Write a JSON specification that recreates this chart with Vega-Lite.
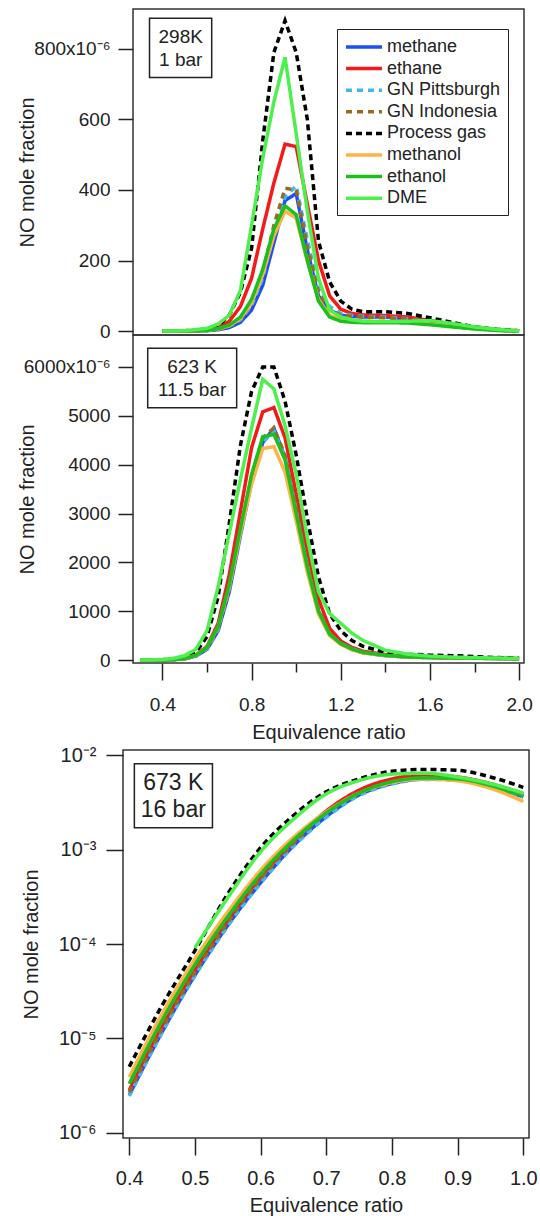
{
"$schema": "https://vega.github.io/schema/vega-lite/v6.json",
"background": "white",
"padding": {"left": 17, "top": 8, "right": 5, "bottom": 2},
"spacing": 2,
"bounds": "full",
"config": {
  "view": {"stroke": "#333", "strokeWidth": 1.5},
  "font": "Liberation Sans",
  "axis": {"grid": false, "domain": false, "tickColor": "#222", "tickWidth": 1.5, "labelColor": "#222", "titleColor": "#222", "labelFontSize": 19, "titleFontSize": 20, "titleFontWeight": "normal", "labelFont": "Liberation Sans", "titleFont": "Liberation Sans"}
},
"datasets": {
"top": [
{"phi":0.4,"fuel":"methane","no":0},{"phi":0.5,"fuel":"methane","no":0},{"phi":0.6,"fuel":"methane","no":1},{"phi":0.65,"fuel":"methane","no":4},{"phi":0.7,"fuel":"methane","no":10},{"phi":0.75,"fuel":"methane","no":25},{"phi":0.8,"fuel":"methane","no":60},{"phi":0.85,"fuel":"methane","no":130},{"phi":0.9,"fuel":"methane","no":250},{"phi":0.95,"fuel":"methane","no":370},{"phi":1.0,"fuel":"methane","no":390},{"phi":1.05,"fuel":"methane","no":230},{"phi":1.1,"fuel":"methane","no":100},{"phi":1.15,"fuel":"methane","no":60},{"phi":1.2,"fuel":"methane","no":45},{"phi":1.25,"fuel":"methane","no":42},{"phi":1.3,"fuel":"methane","no":40},{"phi":1.4,"fuel":"methane","no":40},{"phi":1.5,"fuel":"methane","no":35},{"phi":1.6,"fuel":"methane","no":28},{"phi":1.7,"fuel":"methane","no":18},{"phi":1.8,"fuel":"methane","no":9},{"phi":1.9,"fuel":"methane","no":3},{"phi":2.0,"fuel":"methane","no":0},
{"phi":0.4,"fuel":"ethane","no":0},{"phi":0.5,"fuel":"ethane","no":0},{"phi":0.6,"fuel":"ethane","no":3},{"phi":0.65,"fuel":"ethane","no":10},{"phi":0.7,"fuel":"ethane","no":28},{"phi":0.75,"fuel":"ethane","no":70},{"phi":0.8,"fuel":"ethane","no":150},{"phi":0.85,"fuel":"ethane","no":290},{"phi":0.9,"fuel":"ethane","no":420},{"phi":0.95,"fuel":"ethane","no":530},{"phi":1.0,"fuel":"ethane","no":523},{"phi":1.05,"fuel":"ethane","no":360},{"phi":1.1,"fuel":"ethane","no":200},{"phi":1.15,"fuel":"ethane","no":100},{"phi":1.2,"fuel":"ethane","no":62},{"phi":1.25,"fuel":"ethane","no":50},{"phi":1.3,"fuel":"ethane","no":46},{"phi":1.4,"fuel":"ethane","no":44},{"phi":1.5,"fuel":"ethane","no":40},{"phi":1.6,"fuel":"ethane","no":30},{"phi":1.7,"fuel":"ethane","no":20},{"phi":1.8,"fuel":"ethane","no":10},{"phi":1.9,"fuel":"ethane","no":4},{"phi":2.0,"fuel":"ethane","no":1},
{"phi":0.4,"fuel":"GN Pittsburgh","no":0},{"phi":0.5,"fuel":"GN Pittsburgh","no":0},{"phi":0.6,"fuel":"GN Pittsburgh","no":2},{"phi":0.65,"fuel":"GN Pittsburgh","no":6},{"phi":0.7,"fuel":"GN Pittsburgh","no":14},{"phi":0.75,"fuel":"GN Pittsburgh","no":32},{"phi":0.8,"fuel":"GN Pittsburgh","no":72},{"phi":0.85,"fuel":"GN Pittsburgh","no":150},{"phi":0.9,"fuel":"GN Pittsburgh","no":280},{"phi":0.95,"fuel":"GN Pittsburgh","no":380},{"phi":1.0,"fuel":"GN Pittsburgh","no":412},{"phi":1.05,"fuel":"GN Pittsburgh","no":260},{"phi":1.1,"fuel":"GN Pittsburgh","no":120},{"phi":1.15,"fuel":"GN Pittsburgh","no":70},{"phi":1.2,"fuel":"GN Pittsburgh","no":50},{"phi":1.25,"fuel":"GN Pittsburgh","no":45},{"phi":1.3,"fuel":"GN Pittsburgh","no":42},{"phi":1.4,"fuel":"GN Pittsburgh","no":40},{"phi":1.5,"fuel":"GN Pittsburgh","no":35},{"phi":1.6,"fuel":"GN Pittsburgh","no":27},{"phi":1.7,"fuel":"GN Pittsburgh","no":17},{"phi":1.8,"fuel":"GN Pittsburgh","no":9},{"phi":1.9,"fuel":"GN Pittsburgh","no":3},{"phi":2.0,"fuel":"GN Pittsburgh","no":0},
{"phi":0.4,"fuel":"GN Indonesia","no":0},{"phi":0.5,"fuel":"GN Indonesia","no":0},{"phi":0.6,"fuel":"GN Indonesia","no":2},{"phi":0.65,"fuel":"GN Indonesia","no":6},{"phi":0.7,"fuel":"GN Indonesia","no":15},{"phi":0.75,"fuel":"GN Indonesia","no":35},{"phi":0.8,"fuel":"GN Indonesia","no":80},{"phi":0.85,"fuel":"GN Indonesia","no":165},{"phi":0.9,"fuel":"GN Indonesia","no":300},{"phi":0.95,"fuel":"GN Indonesia","no":405},{"phi":1.0,"fuel":"GN Indonesia","no":400},{"phi":1.05,"fuel":"GN Indonesia","no":240},{"phi":1.1,"fuel":"GN Indonesia","no":110},{"phi":1.15,"fuel":"GN Indonesia","no":60},{"phi":1.2,"fuel":"GN Indonesia","no":45},{"phi":1.25,"fuel":"GN Indonesia","no":42},{"phi":1.3,"fuel":"GN Indonesia","no":40},{"phi":1.4,"fuel":"GN Indonesia","no":38},{"phi":1.5,"fuel":"GN Indonesia","no":34},{"phi":1.6,"fuel":"GN Indonesia","no":26},{"phi":1.7,"fuel":"GN Indonesia","no":16},{"phi":1.8,"fuel":"GN Indonesia","no":8},{"phi":1.9,"fuel":"GN Indonesia","no":3},{"phi":2.0,"fuel":"GN Indonesia","no":0},
{"phi":0.4,"fuel":"Process gas","no":0},{"phi":0.5,"fuel":"Process gas","no":1},{"phi":0.6,"fuel":"Process gas","no":5},{"phi":0.65,"fuel":"Process gas","no":15},{"phi":0.7,"fuel":"Process gas","no":45},{"phi":0.75,"fuel":"Process gas","no":110},{"phi":0.8,"fuel":"Process gas","no":235},{"phi":0.85,"fuel":"Process gas","no":540},{"phi":0.9,"fuel":"Process gas","no":790},{"phi":0.95,"fuel":"Process gas","no":880},{"phi":1.0,"fuel":"Process gas","no":790},{"phi":1.05,"fuel":"Process gas","no":600},{"phi":1.1,"fuel":"Process gas","no":255},{"phi":1.15,"fuel":"Process gas","no":140},{"phi":1.2,"fuel":"Process gas","no":85},{"phi":1.25,"fuel":"Process gas","no":62},{"phi":1.3,"fuel":"Process gas","no":55},{"phi":1.4,"fuel":"Process gas","no":55},{"phi":1.5,"fuel":"Process gas","no":50},{"phi":1.6,"fuel":"Process gas","no":38},{"phi":1.7,"fuel":"Process gas","no":25},{"phi":1.8,"fuel":"Process gas","no":12},{"phi":1.9,"fuel":"Process gas","no":5},{"phi":2.0,"fuel":"Process gas","no":1},
{"phi":0.4,"fuel":"methanol","no":0},{"phi":0.5,"fuel":"methanol","no":0},{"phi":0.6,"fuel":"methanol","no":2},{"phi":0.65,"fuel":"methanol","no":6},{"phi":0.7,"fuel":"methanol","no":15},{"phi":0.75,"fuel":"methanol","no":35},{"phi":0.8,"fuel":"methanol","no":80},{"phi":0.85,"fuel":"methanol","no":160},{"phi":0.9,"fuel":"methanol","no":270},{"phi":0.95,"fuel":"methanol","no":340},{"phi":1.0,"fuel":"methanol","no":320},{"phi":1.05,"fuel":"methanol","no":200},{"phi":1.1,"fuel":"methanol","no":90},{"phi":1.15,"fuel":"methanol","no":45},{"phi":1.2,"fuel":"methanol","no":32},{"phi":1.25,"fuel":"methanol","no":30},{"phi":1.3,"fuel":"methanol","no":28},{"phi":1.4,"fuel":"methanol","no":27},{"phi":1.5,"fuel":"methanol","no":25},{"phi":1.6,"fuel":"methanol","no":20},{"phi":1.7,"fuel":"methanol","no":13},{"phi":1.8,"fuel":"methanol","no":7},{"phi":1.9,"fuel":"methanol","no":2},{"phi":2.0,"fuel":"methanol","no":0},
{"phi":0.4,"fuel":"ethanol","no":0},{"phi":0.5,"fuel":"ethanol","no":0},{"phi":0.6,"fuel":"ethanol","no":2},{"phi":0.65,"fuel":"ethanol","no":7},{"phi":0.7,"fuel":"ethanol","no":17},{"phi":0.75,"fuel":"ethanol","no":40},{"phi":0.8,"fuel":"ethanol","no":90},{"phi":0.85,"fuel":"ethanol","no":175},{"phi":0.9,"fuel":"ethanol","no":290},{"phi":0.95,"fuel":"ethanol","no":355},{"phi":1.0,"fuel":"ethanol","no":330},{"phi":1.05,"fuel":"ethanol","no":200},{"phi":1.1,"fuel":"ethanol","no":85},{"phi":1.15,"fuel":"ethanol","no":40},{"phi":1.2,"fuel":"ethanol","no":28},{"phi":1.25,"fuel":"ethanol","no":25},{"phi":1.3,"fuel":"ethanol","no":24},{"phi":1.4,"fuel":"ethanol","no":24},{"phi":1.5,"fuel":"ethanol","no":23},{"phi":1.6,"fuel":"ethanol","no":18},{"phi":1.7,"fuel":"ethanol","no":12},{"phi":1.8,"fuel":"ethanol","no":6},{"phi":1.9,"fuel":"ethanol","no":2},{"phi":2.0,"fuel":"ethanol","no":0},
{"phi":0.4,"fuel":"DME","no":0},{"phi":0.5,"fuel":"DME","no":1},{"phi":0.6,"fuel":"DME","no":8},{"phi":0.65,"fuel":"DME","no":20},{"phi":0.7,"fuel":"DME","no":45},{"phi":0.75,"fuel":"DME","no":115},{"phi":0.8,"fuel":"DME","no":300},{"phi":0.85,"fuel":"DME","no":490},{"phi":0.9,"fuel":"DME","no":650},{"phi":0.95,"fuel":"DME","no":776},{"phi":1.0,"fuel":"DME","no":560},{"phi":1.05,"fuel":"DME","no":340},{"phi":1.1,"fuel":"DME","no":150},{"phi":1.15,"fuel":"DME","no":60},{"phi":1.2,"fuel":"DME","no":40},{"phi":1.25,"fuel":"DME","no":32},{"phi":1.3,"fuel":"DME","no":28},{"phi":1.4,"fuel":"DME","no":27},{"phi":1.5,"fuel":"DME","no":28},{"phi":1.6,"fuel":"DME","no":30},{"phi":1.7,"fuel":"DME","no":22},{"phi":1.8,"fuel":"DME","no":12},{"phi":1.9,"fuel":"DME","no":5},{"phi":2.0,"fuel":"DME","no":1}
],
"mid": [
{"phi":0.3,"fuel":"methane","no":0},{"phi":0.35,"fuel":"methane","no":0},{"phi":0.4,"fuel":"methane","no":2},{"phi":0.45,"fuel":"methane","no":8},{"phi":0.5,"fuel":"methane","no":25},{"phi":0.55,"fuel":"methane","no":80},{"phi":0.6,"fuel":"methane","no":220},{"phi":0.65,"fuel":"methane","no":600},{"phi":0.7,"fuel":"methane","no":1400},{"phi":0.75,"fuel":"methane","no":2550},{"phi":0.8,"fuel":"methane","no":3650},{"phi":0.85,"fuel":"methane","no":4450},{"phi":0.9,"fuel":"methane","no":4750},{"phi":0.95,"fuel":"methane","no":4150},{"phi":1.0,"fuel":"methane","no":3050},{"phi":1.05,"fuel":"methane","no":1900},{"phi":1.1,"fuel":"methane","no":1000},{"phi":1.15,"fuel":"methane","no":520},{"phi":1.2,"fuel":"methane","no":330},{"phi":1.25,"fuel":"methane","no":220},{"phi":1.3,"fuel":"methane","no":150},{"phi":1.4,"fuel":"methane","no":90},{"phi":1.5,"fuel":"methane","no":60},{"phi":1.6,"fuel":"methane","no":50},{"phi":1.7,"fuel":"methane","no":42},{"phi":1.8,"fuel":"methane","no":36},{"phi":1.9,"fuel":"methane","no":30},{"phi":2.0,"fuel":"methane","no":25},
{"phi":0.3,"fuel":"ethane","no":0},{"phi":0.35,"fuel":"ethane","no":0},{"phi":0.4,"fuel":"ethane","no":3},{"phi":0.45,"fuel":"ethane","no":10},{"phi":0.5,"fuel":"ethane","no":30},{"phi":0.55,"fuel":"ethane","no":100},{"phi":0.6,"fuel":"ethane","no":280},{"phi":0.65,"fuel":"ethane","no":750},{"phi":0.7,"fuel":"ethane","no":1750},{"phi":0.75,"fuel":"ethane","no":3050},{"phi":0.8,"fuel":"ethane","no":4350},{"phi":0.85,"fuel":"ethane","no":5080},{"phi":0.9,"fuel":"ethane","no":5170},{"phi":0.95,"fuel":"ethane","no":4550},{"phi":1.0,"fuel":"ethane","no":3400},{"phi":1.05,"fuel":"ethane","no":2250},{"phi":1.1,"fuel":"ethane","no":1250},{"phi":1.15,"fuel":"ethane","no":650},{"phi":1.2,"fuel":"ethane","no":390},{"phi":1.25,"fuel":"ethane","no":260},{"phi":1.3,"fuel":"ethane","no":180},{"phi":1.4,"fuel":"ethane","no":110},{"phi":1.5,"fuel":"ethane","no":75},{"phi":1.6,"fuel":"ethane","no":58},{"phi":1.7,"fuel":"ethane","no":48},{"phi":1.8,"fuel":"ethane","no":40},{"phi":1.9,"fuel":"ethane","no":34},{"phi":2.0,"fuel":"ethane","no":30},
{"phi":0.3,"fuel":"GN Pittsburgh","no":0},{"phi":0.35,"fuel":"GN Pittsburgh","no":0},{"phi":0.4,"fuel":"GN Pittsburgh","no":2},{"phi":0.45,"fuel":"GN Pittsburgh","no":8},{"phi":0.5,"fuel":"GN Pittsburgh","no":25},{"phi":0.55,"fuel":"GN Pittsburgh","no":80},{"phi":0.6,"fuel":"GN Pittsburgh","no":230},{"phi":0.65,"fuel":"GN Pittsburgh","no":620},{"phi":0.7,"fuel":"GN Pittsburgh","no":1450},{"phi":0.75,"fuel":"GN Pittsburgh","no":2600},{"phi":0.8,"fuel":"GN Pittsburgh","no":3700},{"phi":0.85,"fuel":"GN Pittsburgh","no":4450},{"phi":0.9,"fuel":"GN Pittsburgh","no":4700},{"phi":0.95,"fuel":"GN Pittsburgh","no":4150},{"phi":1.0,"fuel":"GN Pittsburgh","no":3050},{"phi":1.05,"fuel":"GN Pittsburgh","no":1900},{"phi":1.1,"fuel":"GN Pittsburgh","no":1000},{"phi":1.15,"fuel":"GN Pittsburgh","no":530},{"phi":1.2,"fuel":"GN Pittsburgh","no":340},{"phi":1.25,"fuel":"GN Pittsburgh","no":230},{"phi":1.3,"fuel":"GN Pittsburgh","no":160},{"phi":1.4,"fuel":"GN Pittsburgh","no":95},{"phi":1.5,"fuel":"GN Pittsburgh","no":65},{"phi":1.6,"fuel":"GN Pittsburgh","no":52},{"phi":1.7,"fuel":"GN Pittsburgh","no":44},{"phi":1.8,"fuel":"GN Pittsburgh","no":38},{"phi":1.9,"fuel":"GN Pittsburgh","no":32},{"phi":2.0,"fuel":"GN Pittsburgh","no":27},
{"phi":0.3,"fuel":"GN Indonesia","no":0},{"phi":0.35,"fuel":"GN Indonesia","no":0},{"phi":0.4,"fuel":"GN Indonesia","no":2},{"phi":0.45,"fuel":"GN Indonesia","no":9},{"phi":0.5,"fuel":"GN Indonesia","no":28},{"phi":0.55,"fuel":"GN Indonesia","no":90},{"phi":0.6,"fuel":"GN Indonesia","no":250},{"phi":0.65,"fuel":"GN Indonesia","no":660},{"phi":0.7,"fuel":"GN Indonesia","no":1500},{"phi":0.75,"fuel":"GN Indonesia","no":2650},{"phi":0.8,"fuel":"GN Indonesia","no":3750},{"phi":0.85,"fuel":"GN Indonesia","no":4550},{"phi":0.9,"fuel":"GN Indonesia","no":4750},{"phi":0.95,"fuel":"GN Indonesia","no":4200},{"phi":1.0,"fuel":"GN Indonesia","no":3100},{"phi":1.05,"fuel":"GN Indonesia","no":1950},{"phi":1.1,"fuel":"GN Indonesia","no":1050},{"phi":1.15,"fuel":"GN Indonesia","no":550},{"phi":1.2,"fuel":"GN Indonesia","no":350},{"phi":1.25,"fuel":"GN Indonesia","no":240},{"phi":1.3,"fuel":"GN Indonesia","no":170},{"phi":1.4,"fuel":"GN Indonesia","no":100},{"phi":1.5,"fuel":"GN Indonesia","no":70},{"phi":1.6,"fuel":"GN Indonesia","no":56},{"phi":1.7,"fuel":"GN Indonesia","no":46},{"phi":1.8,"fuel":"GN Indonesia","no":40},{"phi":1.9,"fuel":"GN Indonesia","no":34},{"phi":2.0,"fuel":"GN Indonesia","no":28},
{"phi":0.3,"fuel":"Process gas","no":0},{"phi":0.35,"fuel":"Process gas","no":0},{"phi":0.4,"fuel":"Process gas","no":5},{"phi":0.45,"fuel":"Process gas","no":20},{"phi":0.5,"fuel":"Process gas","no":55},{"phi":0.55,"fuel":"Process gas","no":160},{"phi":0.6,"fuel":"Process gas","no":480},{"phi":0.65,"fuel":"Process gas","no":1300},{"phi":0.7,"fuel":"Process gas","no":2800},{"phi":0.75,"fuel":"Process gas","no":4400},{"phi":0.8,"fuel":"Process gas","no":5500},{"phi":0.85,"fuel":"Process gas","no":6000},{"phi":0.9,"fuel":"Process gas","no":6000},{"phi":0.95,"fuel":"Process gas","no":5300},{"phi":1.0,"fuel":"Process gas","no":4200},{"phi":1.05,"fuel":"Process gas","no":2900},{"phi":1.1,"fuel":"Process gas","no":1700},{"phi":1.15,"fuel":"Process gas","no":950},{"phi":1.2,"fuel":"Process gas","no":600},{"phi":1.25,"fuel":"Process gas","no":400},{"phi":1.3,"fuel":"Process gas","no":280},{"phi":1.4,"fuel":"Process gas","no":160},{"phi":1.5,"fuel":"Process gas","no":120},{"phi":1.6,"fuel":"Process gas","no":100},{"phi":1.7,"fuel":"Process gas","no":90},{"phi":1.8,"fuel":"Process gas","no":70},{"phi":1.9,"fuel":"Process gas","no":50},{"phi":2.0,"fuel":"Process gas","no":40},
{"phi":0.3,"fuel":"methanol","no":0},{"phi":0.35,"fuel":"methanol","no":0},{"phi":0.4,"fuel":"methanol","no":3},{"phi":0.45,"fuel":"methanol","no":10},{"phi":0.5,"fuel":"methanol","no":30},{"phi":0.55,"fuel":"methanol","no":95},{"phi":0.6,"fuel":"methanol","no":260},{"phi":0.65,"fuel":"methanol","no":680},{"phi":0.7,"fuel":"methanol","no":1500},{"phi":0.75,"fuel":"methanol","no":2600},{"phi":0.8,"fuel":"methanol","no":3600},{"phi":0.85,"fuel":"methanol","no":4330},{"phi":0.9,"fuel":"methanol","no":4370},{"phi":0.95,"fuel":"methanol","no":3850},{"phi":1.0,"fuel":"methanol","no":2850},{"phi":1.05,"fuel":"methanol","no":1800},{"phi":1.1,"fuel":"methanol","no":950},{"phi":1.15,"fuel":"methanol","no":500},{"phi":1.2,"fuel":"methanol","no":320},{"phi":1.25,"fuel":"methanol","no":210},{"phi":1.3,"fuel":"methanol","no":145},{"phi":1.4,"fuel":"methanol","no":90},{"phi":1.5,"fuel":"methanol","no":62},{"phi":1.6,"fuel":"methanol","no":50},{"phi":1.7,"fuel":"methanol","no":42},{"phi":1.8,"fuel":"methanol","no":36},{"phi":1.9,"fuel":"methanol","no":30},{"phi":2.0,"fuel":"methanol","no":25},
{"phi":0.3,"fuel":"ethanol","no":0},{"phi":0.35,"fuel":"ethanol","no":0},{"phi":0.4,"fuel":"ethanol","no":3},{"phi":0.45,"fuel":"ethanol","no":10},{"phi":0.5,"fuel":"ethanol","no":30},{"phi":0.55,"fuel":"ethanol","no":95},{"phi":0.6,"fuel":"ethanol","no":260},{"phi":0.65,"fuel":"ethanol","no":690},{"phi":0.7,"fuel":"ethanol","no":1550},{"phi":0.75,"fuel":"ethanol","no":2700},{"phi":0.8,"fuel":"ethanol","no":3800},{"phi":0.85,"fuel":"ethanol","no":4570},{"phi":0.9,"fuel":"ethanol","no":4620},{"phi":0.95,"fuel":"ethanol","no":4100},{"phi":1.0,"fuel":"ethanol","no":3000},{"phi":1.05,"fuel":"ethanol","no":1900},{"phi":1.1,"fuel":"ethanol","no":1000},{"phi":1.15,"fuel":"ethanol","no":530},{"phi":1.2,"fuel":"ethanol","no":335},{"phi":1.25,"fuel":"ethanol","no":225},{"phi":1.3,"fuel":"ethanol","no":155},{"phi":1.4,"fuel":"ethanol","no":95},{"phi":1.5,"fuel":"ethanol","no":65},{"phi":1.6,"fuel":"ethanol","no":52},{"phi":1.7,"fuel":"ethanol","no":44},{"phi":1.8,"fuel":"ethanol","no":38},{"phi":1.9,"fuel":"ethanol","no":32},{"phi":2.0,"fuel":"ethanol","no":27},
{"phi":0.3,"fuel":"DME","no":0},{"phi":0.35,"fuel":"DME","no":2},{"phi":0.4,"fuel":"DME","no":12},{"phi":0.45,"fuel":"DME","no":35},{"phi":0.5,"fuel":"DME","no":90},{"phi":0.55,"fuel":"DME","no":220},{"phi":0.6,"fuel":"DME","no":600},{"phi":0.65,"fuel":"DME","no":1500},{"phi":0.7,"fuel":"DME","no":2600},{"phi":0.75,"fuel":"DME","no":3700},{"phi":0.8,"fuel":"DME","no":4750},{"phi":0.85,"fuel":"DME","no":5750},{"phi":0.9,"fuel":"DME","no":5550},{"phi":0.95,"fuel":"DME","no":4800},{"phi":1.0,"fuel":"DME","no":3800},{"phi":1.05,"fuel":"DME","no":2500},{"phi":1.1,"fuel":"DME","no":1400},{"phi":1.15,"fuel":"DME","no":950},{"phi":1.2,"fuel":"DME","no":750},{"phi":1.25,"fuel":"DME","no":550},{"phi":1.3,"fuel":"DME","no":400},{"phi":1.4,"fuel":"DME","no":200},{"phi":1.5,"fuel":"DME","no":120},{"phi":1.6,"fuel":"DME","no":80},{"phi":1.7,"fuel":"DME","no":60},{"phi":1.8,"fuel":"DME","no":50},{"phi":1.9,"fuel":"DME","no":40},{"phi":2.0,"fuel":"DME","no":35}
],
"bot": [
{"phi":0.4,"fuel":"methane","no":2.51e-6},{"phi":0.45,"fuel":"methane","no":1.17e-5},{"phi":0.5,"fuel":"methane","no":4.68e-5},{"phi":0.55,"fuel":"methane","no":1.58e-4},{"phi":0.6,"fuel":"methane","no":4.47e-4},{"phi":0.65,"fuel":"methane","no":1.10e-3},{"phi":0.7,"fuel":"methane","no":2.24e-3},{"phi":0.75,"fuel":"methane","no":3.80e-3},{"phi":0.8,"fuel":"methane","no":5.01e-3},{"phi":0.85,"fuel":"methane","no":5.62e-3},{"phi":0.9,"fuel":"methane","no":5.50e-3},{"phi":0.95,"fuel":"methane","no":4.68e-3},{"phi":1.0,"fuel":"methane","no":3.63e-3},
{"phi":0.4,"fuel":"ethane","no":2.82e-6},{"phi":0.45,"fuel":"ethane","no":1.32e-5},{"phi":0.5,"fuel":"ethane","no":5.25e-5},{"phi":0.55,"fuel":"ethane","no":1.78e-4},{"phi":0.6,"fuel":"ethane","no":5.13e-4},{"phi":0.65,"fuel":"ethane","no":1.23e-3},{"phi":0.7,"fuel":"ethane","no":2.57e-3},{"phi":0.75,"fuel":"ethane","no":4.27e-3},{"phi":0.8,"fuel":"ethane","no":5.62e-3},{"phi":0.85,"fuel":"ethane","no":6.17e-3},{"phi":0.9,"fuel":"ethane","no":5.89e-3},{"phi":0.95,"fuel":"ethane","no":5.01e-3},{"phi":1.0,"fuel":"ethane","no":3.89e-3},
{"phi":0.4,"fuel":"GN Pittsburgh","no":2.45e-6},{"phi":0.45,"fuel":"GN Pittsburgh","no":1.15e-5},{"phi":0.5,"fuel":"GN Pittsburgh","no":4.60e-5},{"phi":0.55,"fuel":"GN Pittsburgh","no":1.55e-4},{"phi":0.6,"fuel":"GN Pittsburgh","no":4.40e-4},{"phi":0.65,"fuel":"GN Pittsburgh","no":1.08e-3},{"phi":0.7,"fuel":"GN Pittsburgh","no":2.20e-3},{"phi":0.75,"fuel":"GN Pittsburgh","no":3.75e-3},{"phi":0.8,"fuel":"GN Pittsburgh","no":4.95e-3},{"phi":0.85,"fuel":"GN Pittsburgh","no":5.55e-3},{"phi":0.9,"fuel":"GN Pittsburgh","no":5.45e-3},{"phi":0.95,"fuel":"GN Pittsburgh","no":4.65e-3},{"phi":1.0,"fuel":"GN Pittsburgh","no":3.60e-3},
{"phi":0.4,"fuel":"GN Indonesia","no":2.69e-6},{"phi":0.45,"fuel":"GN Indonesia","no":1.26e-5},{"phi":0.5,"fuel":"GN Indonesia","no":5.01e-5},{"phi":0.55,"fuel":"GN Indonesia","no":1.70e-4},{"phi":0.6,"fuel":"GN Indonesia","no":4.90e-4},{"phi":0.65,"fuel":"GN Indonesia","no":1.17e-3},{"phi":0.7,"fuel":"GN Indonesia","no":2.45e-3},{"phi":0.75,"fuel":"GN Indonesia","no":3.98e-3},{"phi":0.8,"fuel":"GN Indonesia","no":5.25e-3},{"phi":0.85,"fuel":"GN Indonesia","no":5.75e-3},{"phi":0.9,"fuel":"GN Indonesia","no":5.62e-3},{"phi":0.95,"fuel":"GN Indonesia","no":4.79e-3},{"phi":1.0,"fuel":"GN Indonesia","no":3.72e-3},
{"phi":0.4,"fuel":"Process gas","no":5.01e-6},{"phi":0.45,"fuel":"Process gas","no":2.24e-5},{"phi":0.5,"fuel":"Process gas","no":8.51e-5},{"phi":0.55,"fuel":"Process gas","no":3.40e-4},{"phi":0.6,"fuel":"Process gas","no":1.05e-3},{"phi":0.65,"fuel":"Process gas","no":2.30e-3},{"phi":0.7,"fuel":"Process gas","no":4.10e-3},{"phi":0.75,"fuel":"Process gas","no":5.62e-3},{"phi":0.8,"fuel":"Process gas","no":6.76e-3},{"phi":0.85,"fuel":"Process gas","no":7.08e-3},{"phi":0.9,"fuel":"Process gas","no":6.92e-3},{"phi":0.95,"fuel":"Process gas","no":5.89e-3},{"phi":1.0,"fuel":"Process gas","no":4.57e-3},
{"phi":0.4,"fuel":"methanol","no":3.89e-6},{"phi":0.45,"fuel":"methanol","no":1.82e-5},{"phi":0.5,"fuel":"methanol","no":6.92e-5},{"phi":0.55,"fuel":"methanol","no":2.19e-4},{"phi":0.6,"fuel":"methanol","no":6.03e-4},{"phi":0.65,"fuel":"methanol","no":1.35e-3},{"phi":0.7,"fuel":"methanol","no":2.51e-3},{"phi":0.75,"fuel":"methanol","no":3.98e-3},{"phi":0.8,"fuel":"methanol","no":5.13e-3},{"phi":0.85,"fuel":"methanol","no":5.62e-3},{"phi":0.9,"fuel":"methanol","no":5.37e-3},{"phi":0.95,"fuel":"methanol","no":4.47e-3},{"phi":1.0,"fuel":"methanol","no":3.24e-3},
{"phi":0.4,"fuel":"ethanol","no":3.31e-6},{"phi":0.45,"fuel":"ethanol","no":1.55e-5},{"phi":0.5,"fuel":"ethanol","no":6.03e-5},{"phi":0.55,"fuel":"ethanol","no":1.95e-4},{"phi":0.6,"fuel":"ethanol","no":5.50e-4},{"phi":0.65,"fuel":"ethanol","no":1.26e-3},{"phi":0.7,"fuel":"ethanol","no":2.45e-3},{"phi":0.75,"fuel":"ethanol","no":3.98e-3},{"phi":0.8,"fuel":"ethanol","no":5.25e-3},{"phi":0.85,"fuel":"ethanol","no":5.75e-3},{"phi":0.9,"fuel":"ethanol","no":5.62e-3},{"phi":0.95,"fuel":"ethanol","no":4.79e-3},{"phi":1.0,"fuel":"ethanol","no":3.72e-3},
{"phi":0.5,"fuel":"DME","no":9.12e-5},{"phi":0.55,"fuel":"DME","no":3.10e-4},{"phi":0.6,"fuel":"DME","no":9.50e-4},{"phi":0.65,"fuel":"DME","no":2.10e-3},{"phi":0.7,"fuel":"DME","no":3.90e-3},{"phi":0.75,"fuel":"DME","no":5.40e-3},{"phi":0.8,"fuel":"DME","no":6.31e-3},{"phi":0.85,"fuel":"DME","no":6.46e-3},{"phi":0.9,"fuel":"DME","no":5.89e-3},{"phi":0.95,"fuel":"DME","no":5.01e-3},{"phi":1.0,"fuel":"DME","no":3.98e-3}
]
},
"resolve": {"scale": {"x": "independent", "y": "independent", "color": "independent", "strokeDash": "independent"}, "axis": {"x": "independent", "y": "independent"}, "legend": {"color": "independent", "strokeDash": "independent"}},
"vconcat": [
{
  "spacing": 0,
  "bounds": "flush",
  "resolve": {"scale": {"x": "independent", "y": "independent", "color": "independent", "strokeDash": "independent"}, "axis": {"x": "independent", "y": "independent"}, "legend": {"color": "independent", "strokeDash": "independent"}},
  "vconcat": [
  {
    "width": 401, "height": 326,
    "view": {"stroke": null},
    "layer": [
      {"data": {"name": "top"},
       "mark": {"type": "line", "strokeWidth": 3.5, "clip": true},
       "encoding": {
         "x": {"field": "phi", "type": "quantitative", "scale": {"domain": [0.2231, 2.022], "nice": false, "zero": false}, "axis": null},
         "y": {"field": "no", "type": "quantitative", "scale": {"domain": [-11, 913], "nice": false, "zero": false},
               "axis": {"offset": -10, "values": [0, 200, 400, 600, 800], "format": "d", "tickSize": 15, "labelPadding": 8, "labelExpr": "datum.value == 800 ? '800x10⁻⁶' : datum.label", "title": "NO mole fraction", "titleX": -106, "titleBaseline": "middle"}},
         "color": {"field": "fuel", "type": "nominal",
                   "scale": {"domain": ["methane", "ethane", "GN Pittsburgh", "GN Indonesia", "Process gas", "methanol", "ethanol", "DME"], "range": ["#1f4ef5", "#f51a1a", "#45b5f0", "#9a6a22", "#000000", "#ffb347", "#1dbf1d", "#4ef04e"]},
                   "legend": {"title": null, "orient": "none", "legendX": 214, "legendY": 20, "strokeColor": "#222", "fillColor": "white", "padding": 7, "labelFontSize": 18, "labelFont": "Liberation Sans", "labelColor": "#222", "symbolType": "M-1,0H3", "symbolSize": 324, "symbolStrokeWidth": 3.5, "labelOffset": 21, "rowPadding": 1.6}},
         "strokeDash": {"field": "fuel", "type": "nominal",
                   "scale": {"domain": ["methane", "ethane", "GN Pittsburgh", "GN Indonesia", "Process gas", "methanol", "ethanol", "DME"], "range": [[1, 0], [1, 0], [6, 5], [6, 5], [6, 4], [1, 0], [1, 0], [1, 0]]},
                   "legend": {"title": null, "orient": "none", "legendX": 214, "legendY": 20, "strokeColor": "#222", "fillColor": "white", "padding": 7, "labelFontSize": 18, "labelFont": "Liberation Sans", "labelColor": "#222", "symbolType": "M-1,0H3", "symbolSize": 324, "symbolStrokeWidth": 3.5, "labelOffset": 21, "rowPadding": 1.6}}
       }},
      {"data": {"values": [{}]},
       "mark": {"type": "rect", "fill": "transparent", "stroke": "#333", "strokeWidth": 1.5},
       "encoding": {"x": {"datum": 0.268}, "x2": {"datum": 2.022}, "y": {"datum": -11}, "y2": {"datum": 913}}},
      {"data": {"values": [{}]},
       "mark": {"type": "rect", "fill": "white", "stroke": "#222", "strokeWidth": 1.5},
       "encoding": {"x": {"datum": 0.342}, "x2": {"datum": 0.621}, "y": {"datum": 887}, "y2": {"datum": 719}}},
      {"data": {"values": [{}]},
       "mark": {"type": "text", "text": ["298K", "1 bar"], "fontSize": 19, "lineHeight": 23, "align": "center", "baseline": "middle", "color": "#222", "font": "Liberation Sans"},
       "encoding": {"x": {"datum": 0.482}, "y": {"datum": 835}}}
    ]
  },
  {
    "width": 401, "height": 328,
    "view": {"stroke": null},
    "layer": [
      {"data": {"name": "mid"},
       "mark": {"type": "line", "strokeWidth": 3.5, "clip": true},
       "encoding": {
         "x": {"field": "phi", "type": "quantitative", "scale": {"domain": [0.2231, 2.022], "nice": false, "zero": false},
               "axis": {"values": [0.4, 0.6, 0.8, 1.0, 1.2, 1.4, 1.6, 1.8, 2.0], "labelExpr": "round(datum.value*10) % 4 == 0 ? format(datum.value, '.1f') : ''", "tickSize": {"condition": {"test": "round(datum.value*10) % 4 == 0", "value": 17}, "value": 9}, "labelPadding": 15, "labelOverlap": false, "title": "Equivalence ratio", "titlePadding": 8, "titleX": 205.5}},
         "y": {"field": "no", "type": "quantitative", "scale": {"domain": [-61, 6655], "nice": false, "zero": false},
               "axis": {"offset": -10, "values": [0, 1000, 2000, 3000, 4000, 5000, 6000], "format": "d", "tickSize": 15, "labelPadding": 8, "labelExpr": "datum.value == 6000 ? '6000x10⁻⁶' : datum.label", "title": "NO mole fraction", "titleX": -106, "titleBaseline": "middle"}},
         "color": {"field": "fuel", "type": "nominal", "legend": null,
                   "scale": {"domain": ["methane", "ethane", "GN Pittsburgh", "GN Indonesia", "Process gas", "methanol", "ethanol", "DME"], "range": ["#1f4ef5", "#f51a1a", "#45b5f0", "#9a6a22", "#000000", "#ffb347", "#1dbf1d", "#4ef04e"]}},
         "strokeDash": {"field": "fuel", "type": "nominal", "legend": null,
                   "scale": {"domain": ["methane", "ethane", "GN Pittsburgh", "GN Indonesia", "Process gas", "methanol", "ethanol", "DME"], "range": [[1, 0], [1, 0], [6, 5], [6, 5], [6, 4], [1, 0], [1, 0], [1, 0]]}}
       }},
      {"data": {"values": [{}]},
       "mark": {"type": "rect", "fill": "transparent", "stroke": "#333", "strokeWidth": 1.5},
       "encoding": {"x": {"datum": 0.268}, "x2": {"datum": 2.022}, "y": {"datum": -61}, "y2": {"datum": 6655}}},
      {"data": {"values": [{}]},
       "mark": {"type": "rect", "fill": "white", "stroke": "#222", "strokeWidth": 1.5},
       "encoding": {"x": {"datum": 0.334}, "x2": {"datum": 0.733}, "y": {"datum": 6383}, "y2": {"datum": 5167}}},
      {"data": {"values": [{}]},
       "mark": {"type": "text", "text": ["623 K", "11.5 bar"], "fontSize": 19, "lineHeight": 23, "align": "center", "baseline": "middle", "color": "#222", "font": "Liberation Sans"},
       "encoding": {"x": {"datum": 0.533}, "y": {"datum": 6007}}}
    ]
  }
  ]
},
{
  "width": 406, "height": 388,
  "layer": [
    {"data": {"name": "bot"},
     "mark": {"type": "line", "strokeWidth": 3.5, "clip": true, "interpolate": "monotone"},
     "encoding": {
       "x": {"field": "phi", "type": "quantitative", "scale": {"domain": [0.3905, 1.0087], "nice": false, "zero": false},
             "axis": {"values": [0.4, 0.5, 0.6, 0.7, 0.8, 0.9, 1.0], "format": ".1f", "tickSize": 17, "labelPadding": 13, "labelFontSize": 20, "title": "Equivalence ratio", "titlePadding": 7}},
       "y": {"field": "no", "type": "quantitative", "scale": {"type": "log", "domain": [8.81e-7, 1.138e-2], "nice": false},
             "axis": {"values": [1e-6, 1e-5, 1e-4, 1e-3, 1e-2], "tickSize": 17, "labelPadding": 10, "labelFontSize": 20, "labelExpr": "['10⁻⁶','10⁻⁵','10⁻⁴','10⁻³','10⁻²'][round(log(datum.value)/LN10)+6]", "title": "NO mole fraction", "titleX": -92, "titleBaseline": "middle"}},
       "color": {"field": "fuel", "type": "nominal", "legend": null,
                 "scale": {"domain": ["methane", "ethane", "GN Pittsburgh", "GN Indonesia", "Process gas", "methanol", "ethanol", "DME"], "range": ["#1f4ef5", "#f51a1a", "#45b5f0", "#9a6a22", "#000000", "#ffb347", "#1dbf1d", "#4ef04e"]}},
       "strokeDash": {"field": "fuel", "type": "nominal", "legend": null,
                 "scale": {"domain": ["methane", "ethane", "GN Pittsburgh", "GN Indonesia", "Process gas", "methanol", "ethanol", "DME"], "range": [[1, 0], [1, 0], [6, 5], [6, 5], [6, 4], [1, 0], [1, 0], [1, 0]]}}
     }},
    {"data": {"values": [{}]},
     "mark": {"type": "rect", "fill": "white", "stroke": "#222", "strokeWidth": 1.5},
     "encoding": {"x": {"datum": 0.4078}, "x2": {"datum": 0.5267}, "y": {"datum": 8.15e-3}, "y2": {"datum": 1.71e-3}}},
    {"data": {"values": [{}]},
     "mark": {"type": "text", "text": ["673 K", "16 bar"], "fontSize": 23, "lineHeight": 27, "align": "center", "baseline": "middle", "color": "#222", "font": "Liberation Sans"},
     "encoding": {"x": {"datum": 0.467}, "y": {"datum": 5.13e-3}}}
  ]
}
]
}
